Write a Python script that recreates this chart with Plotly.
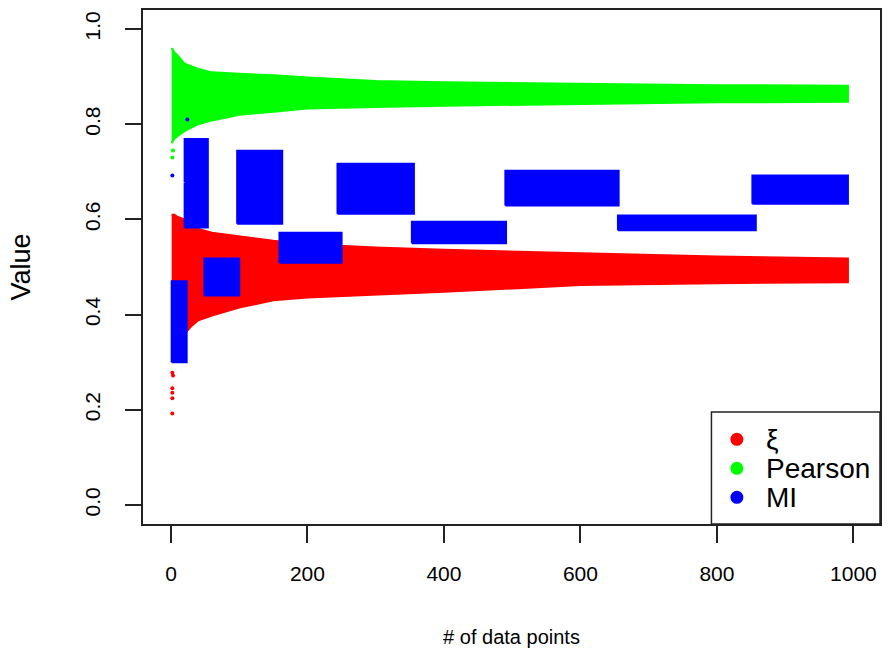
import plotly.graph_objects as go

# Envelope of the xi (red) scatter band: sample size vs lower/upper value
xi_n = [1, 5, 10, 20, 30, 40, 60, 100, 150, 200, 300, 400, 600, 800, 992]
xi_upper = [0.61, 0.61, 0.605, 0.60, 0.59, 0.58, 0.572, 0.565, 0.555, 0.548, 0.541, 0.536, 0.529, 0.522, 0.518]
xi_lower = [0.30, 0.31, 0.33, 0.36, 0.376, 0.388, 0.398, 0.415, 0.43, 0.436, 0.442, 0.448, 0.462, 0.466, 0.468]
# isolated low xi values at very small sample sizes
xi_out_n = [2, 3, 2, 2, 2, 2]
xi_out_v = [0.278, 0.272, 0.245, 0.236, 0.224, 0.192]

# Envelope of the Pearson (green) scatter band
pe_n = [1, 5, 10, 20, 40, 60, 100, 150, 200, 300, 400, 600, 800, 992]
pe_upper = [0.96, 0.951, 0.944, 0.927, 0.916, 0.909, 0.906, 0.903, 0.898, 0.891, 0.888, 0.885, 0.882, 0.881]
pe_lower = [0.76, 0.77, 0.776, 0.786, 0.80, 0.808, 0.82, 0.826, 0.833, 0.836, 0.839, 0.843, 0.846, 0.847]
pe_out_n = [2, 3]
pe_out_v = [0.73, 0.745]

# MI (blue) estimates form blocks: sample-size range and value range per block
mi_start = [1, 20, 20, 49, 97, 159, 244, 353, 490, 655, 852]
mi_end = [23, 54, 54, 100, 163, 250, 356, 491, 656, 857, 992]
mi_low = [0.30, 0.678, 0.583, 0.440, 0.591, 0.509, 0.612, 0.550, 0.629, 0.577, 0.633]
mi_high = [0.47, 0.769, 0.675, 0.518, 0.744, 0.572, 0.717, 0.595, 0.702, 0.608, 0.692]
mi_out_n = [2, 24]
mi_out_v = [0.692, 0.81]

RED, GREEN, BLUE = "#FF0000", "#00FF00", "#0000FF"
legend_labels = ["ξ", "Pearson", "MI"]
legend_colors = [RED, GREEN, BLUE]


def band(xs, lo, hi):
    return xs + xs[::-1], hi + lo[::-1]


def blocks(x0s, x1s, los, his):
    bx, by = [], []
    for a, b, lo, hi in zip(x0s, x1s, los, his):
        bx += [a, b, b, a, a, None]
        by += [lo, lo, hi, hi, lo, None]
    return bx, by


fig = go.Figure()

gx, gy = band(pe_n, pe_lower, pe_upper)
fig.add_trace(go.Scatter(x=gx, y=gy, fill="toself", fillcolor=GREEN, mode="lines",
                         line=dict(color=GREEN, width=2), hoverinfo="skip", showlegend=False))
fig.add_trace(go.Scatter(x=pe_out_n, y=pe_out_v, mode="markers",
                         marker=dict(color=GREEN, size=4), showlegend=False))

rx, ry = band(xi_n, xi_lower, xi_upper)
fig.add_trace(go.Scatter(x=rx, y=ry, fill="toself", fillcolor=RED, mode="lines",
                         line=dict(color=RED, width=2), hoverinfo="skip", showlegend=False))
fig.add_trace(go.Scatter(x=xi_out_n, y=xi_out_v, mode="markers",
                         marker=dict(color=RED, size=4), showlegend=False))

bx, by = blocks(mi_start, mi_end, mi_low, mi_high)
fig.add_trace(go.Scatter(x=bx, y=by, fill="toself", fillcolor=BLUE, mode="lines",
                         line=dict(color=BLUE, width=2), hoverinfo="skip", showlegend=False))
fig.add_trace(go.Scatter(x=mi_out_n, y=mi_out_v, mode="markers",
                         marker=dict(color=BLUE, size=4), showlegend=False))

TICK_FONT = dict(family="Liberation Sans, Arial", size=21, color="black")
XTITLE_FONT = dict(family="Liberation Sans, Arial", size=20, color="black")
AX_COLOR = "#222222"

fig.update_xaxes(
    range=[-41, 1039], tickvals=[0, 200, 400, 600, 800, 1000],
    ticks="outside", ticklen=17, tickwidth=1.5, tickcolor=AX_COLOR,
    showline=True, mirror=True, linecolor=AX_COLOR, linewidth=1.5,
    showgrid=False, zeroline=False, tickfont=TICK_FONT, ticklabelstandoff=13,
    title=dict(text="# of data points", font=XTITLE_FONT, standoff=46),
)
fig.update_yaxes(
    range=[-0.04, 1.04], tickvals=[0, 0.2, 0.4, 0.6, 0.8, 1.0],
    ticktext=["0.0", "0.2", "0.4", "0.6", "0.8", "1.0"], tickangle=-90,
    ticks="outside", ticklen=16, tickwidth=1.5, tickcolor=AX_COLOR,
    showline=True, mirror=True, linecolor=AX_COLOR, linewidth=1.5,
    showgrid=False, zeroline=False, tickfont=TICK_FONT, ticklabelstandoff=17,
    title=dict(text="Value", font=dict(family="Liberation Sans, Arial", size=27, color="black"),
               standoff=42),
)

# legend box in the lower-right corner of the plotting region
shapes = [dict(type="rect", xref="paper", yref="paper", x0=0.7713, x1=1.0, y0=0.0, y1=0.2177,
               line=dict(color=AX_COLOR, width=1.5), fillcolor="white", layer="above")]
annotations = []
legend_rows = [0.1647, 0.1084, 0.0519]
for label, col, yy in zip(legend_labels, legend_colors, legend_rows):
    shapes.append(dict(type="circle", xref="paper", yref="paper", xsizemode="pixel",
                       ysizemode="pixel", xanchor=0.8058, yanchor=yy,
                       x0=-6.5, x1=6.5, y0=-6.5, y1=6.5,
                       fillcolor=col, line=dict(color=col, width=0), layer="above"))
    annotations.append(dict(xref="paper", yref="paper", x=0.842, y=yy, xanchor="left",
                            yanchor="middle", text=label, showarrow=False,
                            font=dict(family="Liberation Sans, Arial", size=28, color="black")))

fig.update_layout(
    width=890, height=660,
    margin=dict(l=143, r=8, t=9, b=136),
    paper_bgcolor="white", plot_bgcolor="white",
    showlegend=False, shapes=shapes, annotations=annotations,
)

fig.write_html("out.html")
